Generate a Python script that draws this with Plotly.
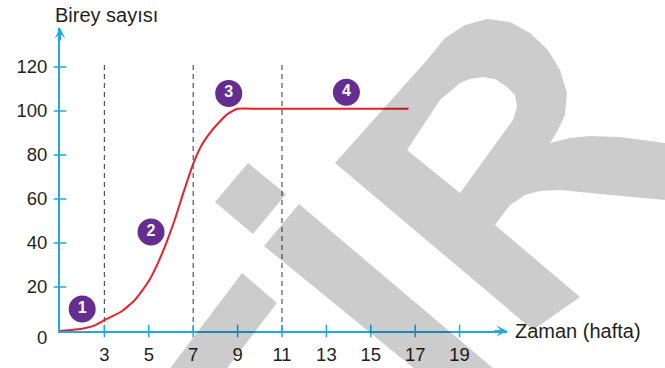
import plotly.graph_objects as go

# growth curve (weeks -> number of individuals)
weeks = [1, 2, 2.6, 3, 3.8, 4.4, 5, 5.45, 5.82, 6.2, 6.53, 7, 7.41, 7.91, 8.54, 9, 10, 16.7]
count = [0, 1, 2.7, 4.9, 9.1, 14.4, 22.7, 31.8, 40.9, 51.5, 62, 76, 85, 92, 98.6, 101, 101, 101]

# numbered phase badges
phase_x = [2.0, 5.1, 8.6, 13.9]
phase_y = [10, 45, 108, 108.5]
phase_lbl = ["1", "2", "3", "4"]

# dashed separators between phases
sep_x = [3, 7, 11]
sep_top = 121

x_ticks = [3, 5, 7, 9, 11, 13, 15, 17, 19]
y_ticks = [20, 40, 60, 80, 100, 120]

BLUE = "#1ea9e4"
RED = "#e8202a"
PURPLE = "#662d91"
TXT = "#231f20"
FONT = "Liberation Sans, Arial, sans-serif"

W, H = 665, 368
ML, MR, MT, MB = 60, 158, 28, 37
PW, PH = W - ML - MR, H - MT - MB
XPX, YPX = 22.2, 2.2  # pixels per unit
x_rng = [1, 1 + PW / XPX]
y_rng = [0, PH / YPX]

fig = go.Figure()

# dashed separators
sx, sy = [], []
for v in sep_x:
    sx += [v, v, None]
    sy += [0, sep_top, None]
fig.add_trace(go.Scatter(x=sx, y=sy, mode="lines", hoverinfo="skip",
                         line=dict(color="#555555", width=1.2, dash="5px,4px")))

# growth curve
fig.add_trace(go.Scatter(x=weeks, y=count, mode="lines",
                         line=dict(color=RED, width=2, shape="spline", smoothing=0.5)))

# axis ticks crossing the axis lines
fig.add_trace(go.Scatter(x=x_ticks, y=[0] * len(x_ticks), mode="markers", cliponaxis=False,
                         marker=dict(symbol="line-ns", size=9, line=dict(color=BLUE, width=1.5))))
fig.add_trace(go.Scatter(x=[1] * len(y_ticks), y=y_ticks, mode="markers", cliponaxis=False,
                         marker=dict(symbol="line-ew", size=9, line=dict(color=BLUE, width=1.5))))

# phase badges
fig.add_trace(go.Scatter(x=phase_x, y=phase_y, mode="markers+text", text=phase_lbl,
                         textposition="middle center", cliponaxis=False,
                         textfont=dict(family=FONT, size=16, color="white", weight="bold"),
                         marker=dict(size=27, color=PURPLE)))


# watermark (drawn in pixels, converted to paper coords)
def pt(px, py):
    return f"{(px - ML) / PW:.4f},{(MT + PH - py) / PH:.4f}"


def poly(points):
    return "M" + " L".join(pt(*p) for p in points) + " Z"


r_outer = [(335, 163), (427, 60), (445, 38), (465, 25), (487, 19), (510, 22), (530, 33),
           (548, 50), (560, 70), (567, 93), (565, 115), (558, 130), (550, 143),
           (570, 138), (590, 136), (620, 137), (665, 143), (690, 146),
           (690, 203), (665, 200), (600, 194), (560, 190), (540, 191), (525, 195),
           (510, 205), (495, 225), (580, 297), (533, 330)]
r_hole = [(407, 150), (440, 100), (460, 83), (470, 79), (483, 77), (495, 79), (507, 87),
          (515, 95), (517, 107), (513, 120), (460, 193)]
wm = [
    poly([(248, 163), (286, 194), (253, 234), (215, 202)]),
    poly([(242, 273), (277, 303), (222, 375), (165, 375)]),
    poly([(299, 204), (501, 375), (422, 375), (264, 246)]),
    poly(r_outer) + " " + poly(r_hole),
]
for p in wm:
    fig.add_shape(type="path", path=p, xref="paper", yref="paper", layer="above",
                  fillcolor="rgba(0,0,0,0.2)", line=dict(width=0))

# axis arrows
fig.add_annotation(x=x_rng[1], y=0, ax=-14, ay=0, showarrow=True, arrowhead=3,
                   arrowsize=0.9, arrowwidth=2, arrowcolor=BLUE, text="")
fig.add_annotation(x=1, y=y_rng[1], ax=0, ay=14, showarrow=True, arrowhead=3,
                   arrowsize=0.9, arrowwidth=2, arrowcolor=BLUE, text="")

# axis titles and the origin label
fig.add_annotation(x=0, y=1, xref="paper", yref="paper", xanchor="left", yanchor="middle",
                   xshift=-7, yshift=13, showarrow=False, text="Birey sayısı",
                   font=dict(family=FONT, size=20, color=TXT))
fig.add_annotation(x=1, y=0, xref="paper", yref="y", xanchor="left", yanchor="middle",
                   xshift=6, showarrow=False, text="Zaman (hafta)",
                   font=dict(family=FONT, size=20, color=TXT))
fig.add_annotation(x=1, y=0, xanchor="right", yanchor="middle", xshift=-11, yshift=-6,
                   showarrow=False, text="0", font=dict(family=FONT, size=18.5, color=TXT))

fig.update_layout(
    width=W, height=H,
    margin=dict(l=ML, r=MR, t=MT, b=MB),
    paper_bgcolor="white", plot_bgcolor="white",
    showlegend=False,
    font=dict(family=FONT, size=18.5, color=TXT),
    xaxis=dict(range=x_rng, tickvals=x_ticks, showgrid=False, zeroline=False,
               showline=True, linecolor=BLUE, linewidth=2, automargin=False,
               ticks="outside", ticklen=6, tickcolor="rgba(0,0,0,0)"),
    yaxis=dict(range=y_rng, tickvals=y_ticks, showgrid=False, zeroline=False,
               showline=True, linecolor=BLUE, linewidth=2, automargin=False,
               ticks="outside", ticklen=7, tickcolor="rgba(0,0,0,0)"),
)

# page body has a default 8px margin; drop it so the figure sits at the corner
fig.write_html("out.html", config={"displayModeBar": False},
               post_script="document.body.style.margin='0';")
